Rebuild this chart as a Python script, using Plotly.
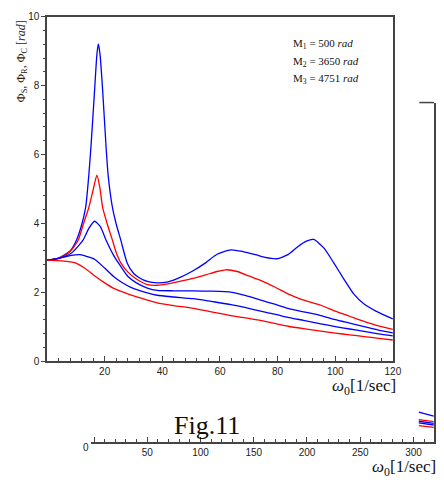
import plotly.graph_objects as go

W, H = 444, 486

# ---- main chart data (omega_0 [1/sec] vs Phi [rad]) ----
x_b1 = [0, 4, 8, 10.2, 12, 13.4, 14.5, 15.3, 16.5, 17.3, 17.8, 18.4, 19.3, 20.5, 21.2, 22.7, 24, 25.6, 27.8, 30, 32, 34.8, 38.2, 42, 46, 50.7, 55, 59, 63.8, 68, 72.3, 75.7, 79.7, 83.6, 87, 90, 92.5, 96.1, 99.5, 103, 106.4, 109.8, 114.3, 120]
y_b1 = [2.93, 2.99, 3.2, 3.51, 3.95, 4.46, 5.4, 6.3, 7.86, 8.9, 9.21, 8.9, 7.86, 6.2, 5.4, 4.46, 3.98, 3.51, 2.85, 2.55, 2.42, 2.31, 2.27, 2.3, 2.42, 2.62, 2.85, 3.1, 3.23, 3.18, 3.09, 3.01, 2.97, 3.09, 3.32, 3.48, 3.53, 3.28, 2.85, 2.38, 1.95, 1.67, 1.44, 1.22]

x_r1 = [0, 4, 8, 10.8, 12.5, 14.5, 15.9, 17.3, 18.3, 19.3, 21, 22.7, 24, 25.6, 28, 31, 34.8, 38.2, 42, 46, 50.7, 55, 59, 62, 66, 70, 74.5, 79, 83.6, 88, 95, 100, 105, 110, 115, 120]
y_r1 = [2.93, 2.98, 3.18, 3.51, 3.95, 4.46, 4.93, 5.40, 5.05, 4.46, 3.95, 3.51, 3.15, 2.85, 2.59, 2.38, 2.22, 2.20, 2.24, 2.31, 2.40, 2.5, 2.6, 2.65, 2.6, 2.47, 2.33, 2.15, 1.95, 1.8, 1.62, 1.45, 1.3, 1.15, 1.02, 0.92]

x_b2 = [0, 4, 8.5, 12.5, 14.5, 16.5, 18.5, 20.5, 23.3, 26, 28, 31, 34.8, 38.2, 44, 50.7, 57, 63.8, 69, 74.5, 79, 83.6, 89, 95, 100, 105, 110, 115, 120]
y_b2 = [2.93, 2.98, 3.14, 3.51, 3.85, 4.06, 3.9, 3.51, 3.04, 2.7, 2.46, 2.27, 2.12, 2.05, 2.04, 2.04, 2.03, 2.00, 1.9, 1.76, 1.65, 1.53, 1.43, 1.32, 1.2, 1.1, 1.0, 0.9, 0.82]

x_b3 = [0, 4, 8, 11.5, 14, 16.6, 20, 23.4, 26, 29.1, 34.8, 38.2, 44, 50.7, 57, 63.8, 69, 74.5, 79, 83.6, 89, 95, 100, 105, 110, 115, 120]
y_b3 = [2.93, 2.98, 3.06, 3.09, 3.03, 2.95, 2.7, 2.43, 2.28, 2.14, 1.98, 1.91, 1.86, 1.81, 1.73, 1.64, 1.55, 1.44, 1.36, 1.27, 1.18, 1.08, 1.0, 0.93, 0.86, 0.79, 0.73]

x_r2 = [0, 5, 9.8, 13, 16.6, 20, 23.4, 28, 34.8, 38.2, 44, 50.7, 57, 63.8, 69, 74.5, 79, 83.6, 89, 95, 100, 105, 110, 115, 120]
y_r2 = [2.93, 2.91, 2.85, 2.7, 2.47, 2.27, 2.10, 1.95, 1.77, 1.69, 1.61, 1.53, 1.43, 1.32, 1.25, 1.17, 1.09, 1.01, 0.94, 0.87, 0.81, 0.76, 0.71, 0.66, 0.61]

main_x_ticks = [20, 40, 60, 80, 100, 120]
main_y_ticks = [0, 2, 4, 6, 8, 10]

# ---- background (partially hidden) chart data ----
bg_x = [305, 319]
bg_b1 = [0.88, 0.76]
bg_r1 = [0.66, 0.60]
bg_b2 = [0.61, 0.55]
bg_b3 = [0.56, 0.50]
bg_r2 = [0.48, 0.43]
bg_x_ticks = [0, 50, 100, 150, 200, 250, 300]
bg_x_labels = ["", "50", "100", "150", "200", "250", "300"]

legend_lines = ["M<sub>1</sub> = 500 <i>rad</i>",
                "M<sub>2</sub> = 3650 <i>rad</i>",
                "M<sub>3</sub> = 4751 <i>rad</i>"]

BLUE = "#0000ff"
RED = "#ff0000"
AX = "#444444"
TXT = "#222222"

fig = go.Figure()

def add(x, y, c, xa="x", ya="y"):
    fig.add_trace(go.Scatter(x=x, y=y, mode="lines", xaxis=xa, yaxis=ya,
                             line=dict(color=c, width=1.3, shape="spline", smoothing=0.6),
                             showlegend=False, hoverinfo="skip"))

add(x_b1, y_b1, BLUE)
add(x_r1, y_r1, RED)
add(x_b2, y_b2, BLUE)
add(x_b3, y_b3, BLUE)
add(x_r2, y_r2, RED)

for yy, c in [(bg_b1, BLUE), (bg_r1, RED), (bg_b2, BLUE), (bg_b3, BLUE), (bg_r2, RED)]:
    add(bg_x, yy, c, "x2", "y2")

def px(v):
    return v / W

def py(v):
    return 1 - v / H

tickfont = dict(family="Liberation Sans, Arial", size=10, color=TXT)

fig.update_layout(
    width=W, height=H,
    margin=dict(l=0, r=0, t=0, b=0),
    paper_bgcolor="white", plot_bgcolor="rgba(0,0,0,0)",
    xaxis=dict(domain=[px(48), px(401)], range=[0, 120], anchor="y",
               showline=True, linecolor=AX, linewidth=1.5, mirror=True,
               tickvals=main_x_ticks, ticks="inside", ticklen=5, tickcolor=AX,
               minor=dict(dtick=4, ticks="inside", ticklen=3, tickcolor=AX),
               showgrid=False, zeroline=False, tickfont=tickfont),
    yaxis=dict(domain=[py(364), py(11)], range=[0, 10], anchor="x",
               showline=True, linecolor=AX, linewidth=1.5, mirror=True,
               tickvals=main_y_ticks, ticks="outside", ticklen=4, tickcolor=AX,
               minor=dict(dtick=0.4, ticks="outside", ticklen=2, tickcolor=AX),
               showgrid=False, zeroline=False, tickfont=tickfont),
    xaxis2=dict(domain=[px(93), px(443)], range=[-2.76, 319.3], anchor="y2",
                showline=True, linecolor=AX, linewidth=1.5,
                tickvals=bg_x_ticks, ticktext=bg_x_labels, ticks="inside", ticklen=5, tickcolor=AX,
                minor=dict(dtick=10, ticks="inside", ticklen=3, tickcolor=AX),
                showgrid=False, zeroline=False, tickfont=tickfont),
    yaxis2=dict(domain=[py(447), py(99)], range=[0, 10], anchor="x2", side="right",
                showline=True, linecolor=AX, linewidth=1.5,
                showticklabels=False, ticks="", showgrid=False, zeroline=False),
)

fig.add_shape(type="line", xref="paper", yref="paper",
              x0=px(428), x1=px(443), y0=py(99), y1=py(99),
              line=dict(color=AX, width=1.5))

serif = "Liberation Serif, Times New Roman, serif"
ann = []
ann.append(dict(x=px(22), y=py(57), xref="paper", yref="paper", textangle=-90,
                xanchor="center", yanchor="middle",
                text="Φ<sub>S</sub>, Φ<sub>R</sub>, Φ<sub>C</sub> [<i>rad</i>]",
                showarrow=False, font=dict(family=serif, size=12, color=TXT)))
for i, t in enumerate(legend_lines):
    ann.append(dict(x=px(297), y=py(39 + 18 * i), xref="paper", yref="paper",
                    xanchor="left", yanchor="middle", text=t, showarrow=False,
                    font=dict(family=serif, size=11, color="#111")))
ann.append(dict(x=px(406), y=py(391), xref="paper", yref="paper", xanchor="right",
                yanchor="middle", text="<i>ω</i><sub>0</sub>[1/sec]", showarrow=False,
                font=dict(family=serif, size=17, color="#111")))
ann.append(dict(x=px(211), y=py(430), xref="paper", yref="paper", xanchor="center",
                yanchor="middle", text="Fig.11", showarrow=False,
                font=dict(family=serif, size=26, color="#111")))
ann.append(dict(x=px(447), y=py(474), xref="paper", yref="paper", xanchor="right",
                yanchor="middle", text="<i>ω</i><sub>0</sub>[1/sec]", showarrow=False,
                font=dict(family=serif, size=17, color="#111")))
ann.append(dict(x=px(88), y=py(453), xref="paper", yref="paper", xanchor="center",
                yanchor="middle", text="0", showarrow=False, font=tickfont))
fig.update_layout(annotations=ann)

fig.write_html("out.html", config={"displayModeBar": False},
               post_script="document.body.style.margin='0';document.body.style.overflow='hidden';")
